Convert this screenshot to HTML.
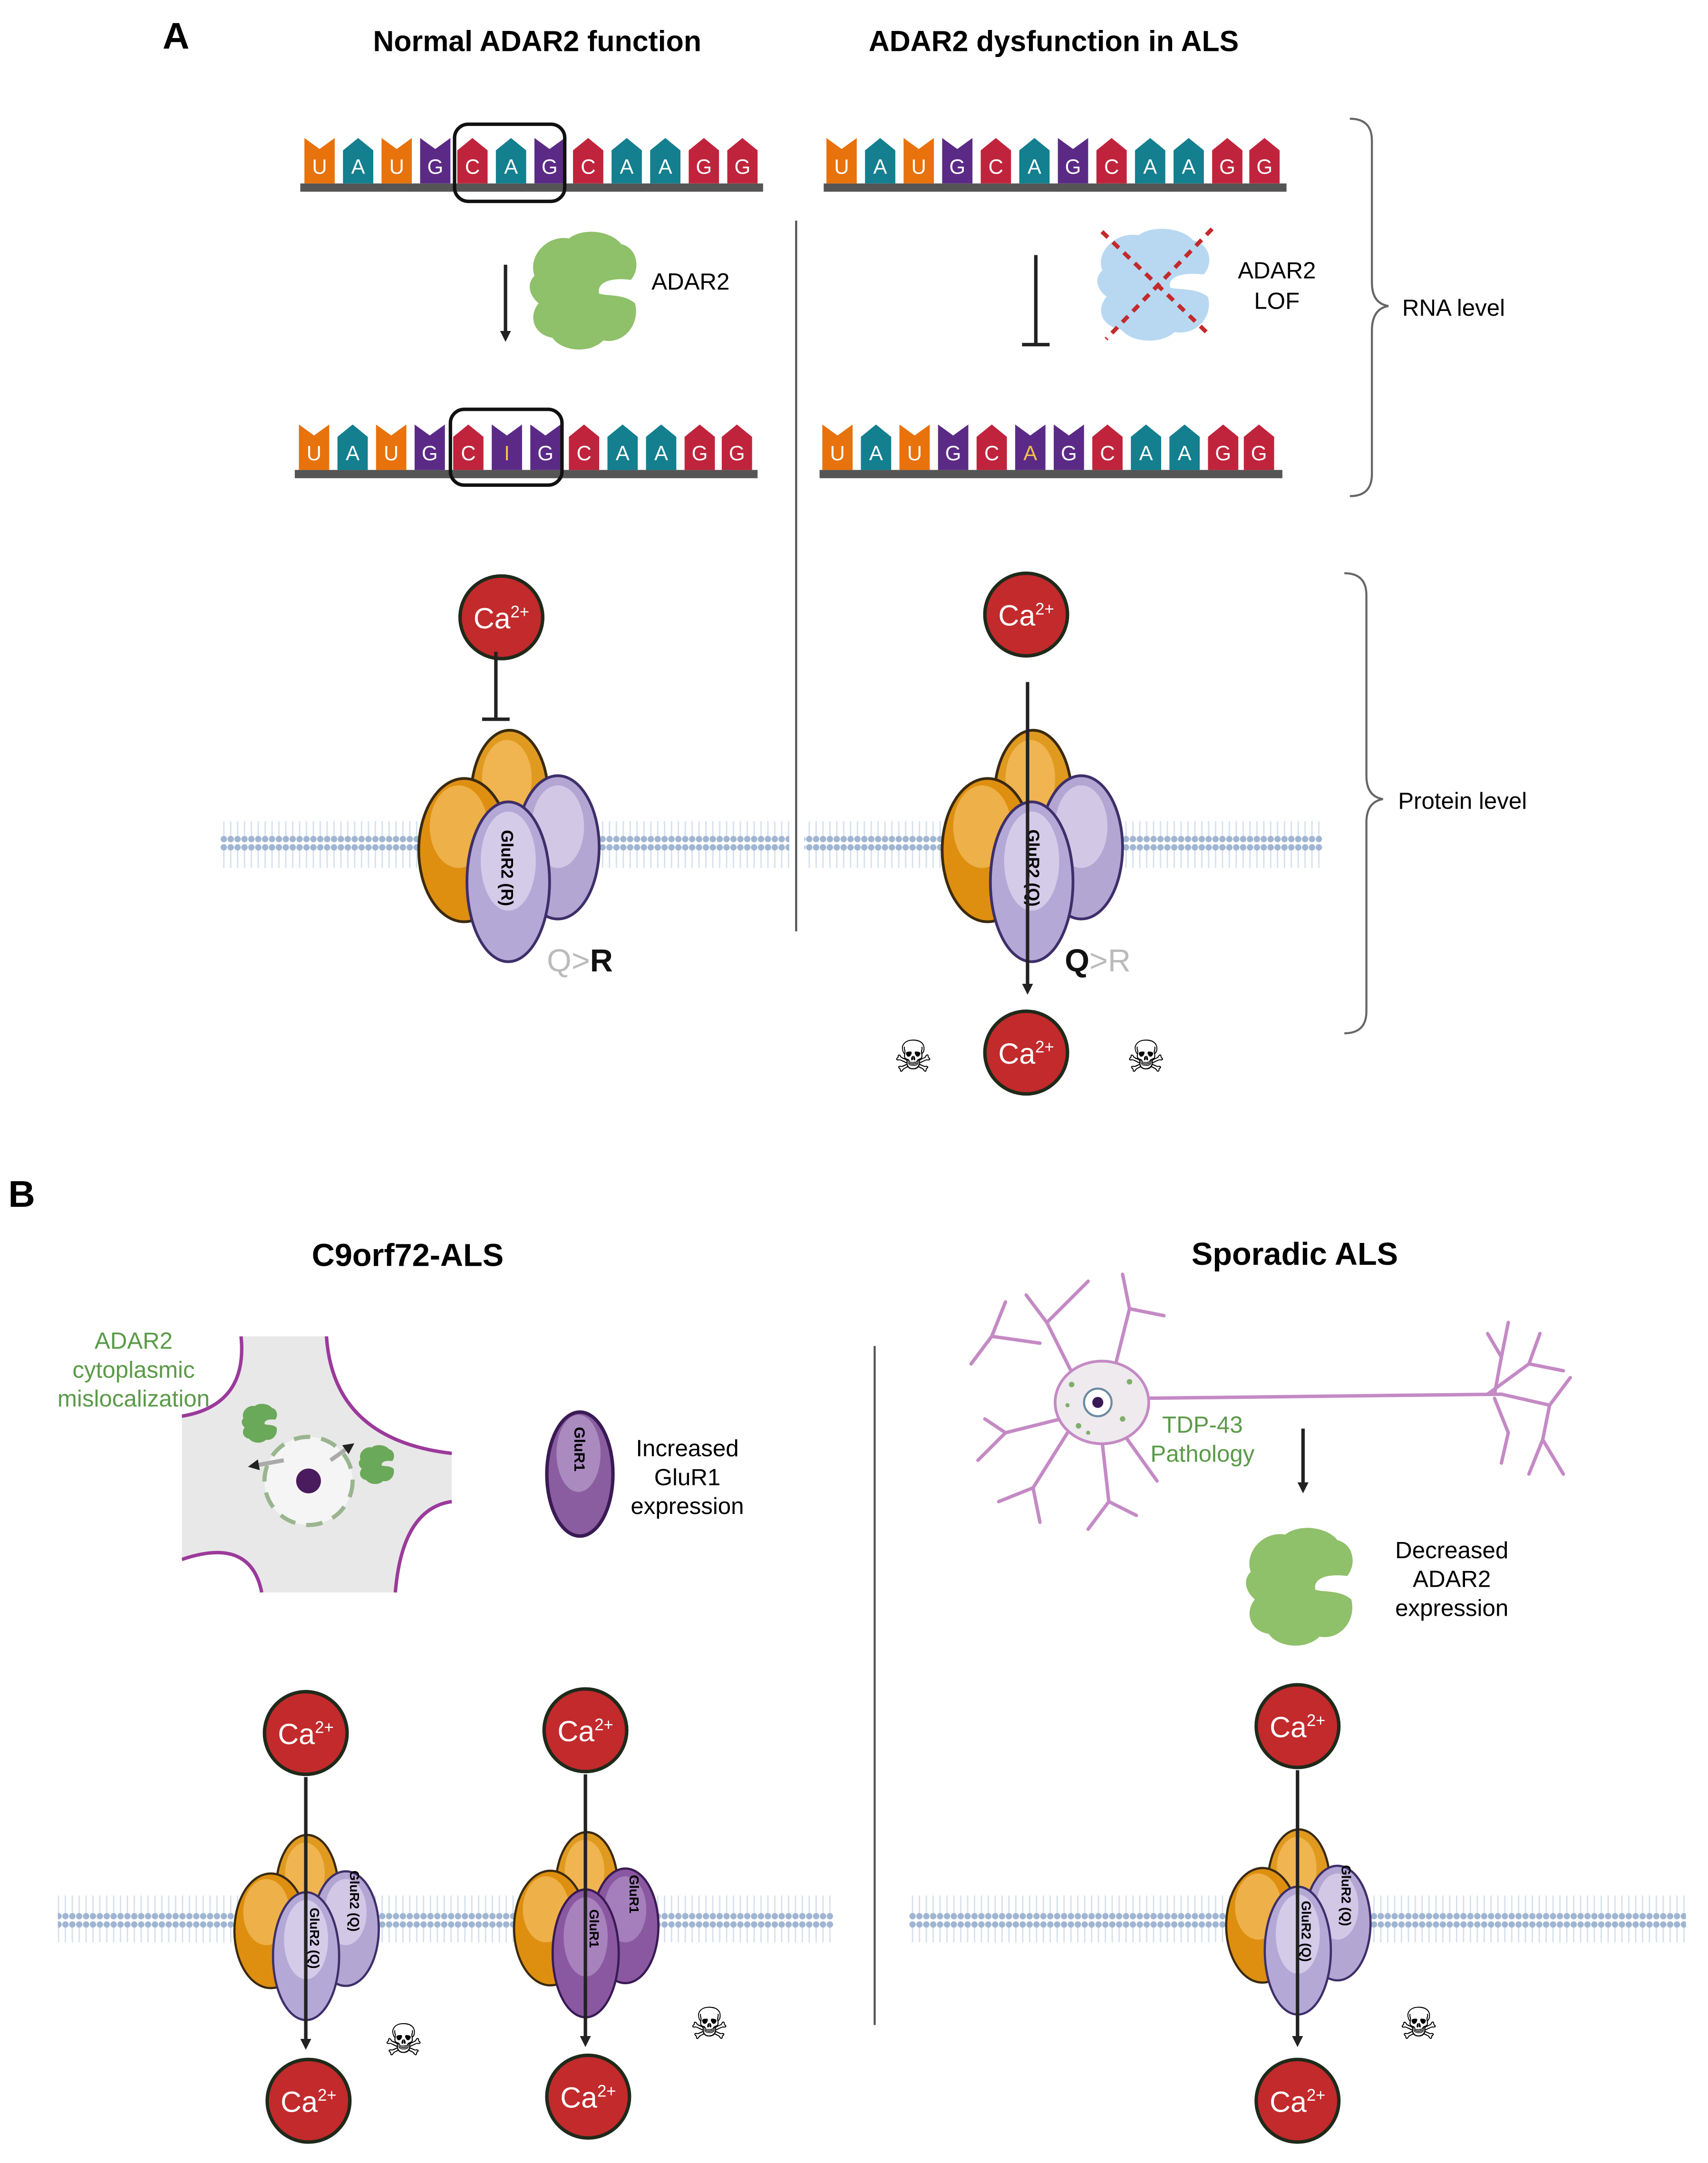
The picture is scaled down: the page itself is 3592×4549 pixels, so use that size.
<!DOCTYPE html>
<html><head><meta charset="utf-8"><style>
html,body{margin:0;padding:0;background:#fff}
svg{display:block}
text{font-family:"Liberation Sans",sans-serif}
</style></head><body>
<svg width="3592" height="4549" viewBox="0 0 1240 1570" xmlns="http://www.w3.org/2000/svg">
<defs>
<pattern id="mem" width="5" height="34" patternUnits="userSpaceOnUse">
<line x1="2.5" y1="4" x2="2.5" y2="30" stroke="#d6e0ee" stroke-width="1"/>
<circle cx="2.5" cy="3" r="2.3" fill="#9fb5d2"/>
<circle cx="2.5" cy="31" r="2.3" fill="#9fb5d2"/>
</pattern>
<path id="pk" d="M0 33V9L11 0 22 9V33Z"/>
<path id="nt" d="M0 33V0L11 8 22 0V33Z"/>
<g id="ca">
<circle r="30" fill="#c22a2c" stroke="#1f2a1a" stroke-width="2.5"/>
</g>
<g id="rec">
<ellipse cx="370" cy="578" rx="28" ry="48" fill="#e09a20" stroke="#3a2a10" stroke-width="2"/>
<ellipse cx="368" cy="565" rx="18" ry="28" fill="#f0b550"/>
<ellipse cx="337" cy="617" rx="33" ry="52" fill="#de8f10" stroke="#3a2a10" stroke-width="2"/>
<ellipse cx="333" cy="600" rx="21" ry="30" fill="#eeb048"/>
<ellipse cx="405" cy="615" rx="30" ry="52" fill="#b3a6d3" stroke="#3e2f6a" stroke-width="2"/>
<ellipse cx="405" cy="600" rx="19" ry="30" fill="#d2c8e6"/>
<ellipse cx="369" cy="640" rx="30" ry="58" fill="#b4a8d6" stroke="#3e2f6a" stroke-width="2"/>
<ellipse cx="369" cy="625" rx="20" ry="36" fill="#d4cbe8"/>
</g>
<g id="recd">
<ellipse cx="370" cy="578" rx="28" ry="48" fill="#e09a20" stroke="#3a2a10" stroke-width="2"/>
<ellipse cx="368" cy="565" rx="18" ry="28" fill="#f0b550"/>
<ellipse cx="337" cy="617" rx="33" ry="52" fill="#de8f10" stroke="#3a2a10" stroke-width="2"/>
<ellipse cx="333" cy="600" rx="21" ry="30" fill="#eeb048"/>
<ellipse cx="405" cy="615" rx="30" ry="52" fill="#8a58a0" stroke="#3a1a55" stroke-width="2"/>
<ellipse cx="405" cy="600" rx="19" ry="30" fill="#a57fbb"/>
<ellipse cx="369" cy="640" rx="30" ry="58" fill="#8a58a0" stroke="#3a1a55" stroke-width="2"/>
<ellipse cx="369" cy="625" rx="20" ry="36" fill="#a882bd"/>
</g>
<g id="blob">
<path d="M5 35 C0 20 15 5 30 8 C40 0 60 2 68 12 C80 15 82 30 75 38 C60 36 50 40 52 48 C58 50 70 48 78 55 C82 70 70 85 55 82 C45 92 25 90 18 80 C5 78 0 65 8 55 C0 48 0 40 5 35Z"/>
</g>
<marker id="ah" markerWidth="8" markerHeight="8" refX="4" refY="4" orient="auto" markerUnits="userSpaceOnUse"><path d="M0 0L8 4L0 8Z" fill="#222"/></marker>
</defs>

<text x="118" y="35" font-size="27" font-weight="bold">A</text>
<text x="390" y="37" font-size="21" font-weight="bold" text-anchor="middle">Normal ADAR2 function</text>
<text x="765" y="37" font-size="21" font-weight="bold" text-anchor="middle">ADAR2 dysfunction in ALS</text>

<g font-size="15" fill="#fff" text-anchor="middle">
<rect x="218" y="133" width="336" height="6" fill="#555"/>
<g transform="translate(221,100)"><use href="#nt" fill="#e8720c"/><text x="11" y="26">U</text></g>
<g transform="translate(249,100)"><use href="#pk" fill="#137f8f"/><text x="11" y="26">A</text></g>
<g transform="translate(277,100)"><use href="#nt" fill="#e8720c"/><text x="11" y="26">U</text></g>
<g transform="translate(305,100)"><use href="#nt" fill="#5b2a86"/><text x="11" y="26">G</text></g>
<g transform="translate(332,100)"><use href="#pk" fill="#c0243c"/><text x="11" y="26">C</text></g>
<g transform="translate(360,100)"><use href="#pk" fill="#137f8f"/><text x="11" y="26">A</text></g>
<g transform="translate(388,100)"><use href="#nt" fill="#5b2a86"/><text x="11" y="26">G</text></g>
<g transform="translate(416,100)"><use href="#pk" fill="#c0243c"/><text x="11" y="26">C</text></g>
<g transform="translate(444,100)"><use href="#pk" fill="#137f8f"/><text x="11" y="26">A</text></g>
<g transform="translate(472,100)"><use href="#pk" fill="#137f8f"/><text x="11" y="26">A</text></g>
<g transform="translate(500,100)"><use href="#pk" fill="#c0243c"/><text x="11" y="26">G</text></g>
<g transform="translate(528,100)"><use href="#pk" fill="#c0243c"/><text x="11" y="26">G</text></g>
<rect x="214" y="341" width="336" height="6" fill="#555"/>
<g transform="translate(217,308)"><use href="#nt" fill="#e8720c"/><text x="11" y="26">U</text></g>
<g transform="translate(245,308)"><use href="#pk" fill="#137f8f"/><text x="11" y="26">A</text></g>
<g transform="translate(273,308)"><use href="#nt" fill="#e8720c"/><text x="11" y="26">U</text></g>
<g transform="translate(301,308)"><use href="#nt" fill="#5b2a86"/><text x="11" y="26">G</text></g>
<g transform="translate(329,308)"><use href="#pk" fill="#c0243c"/><text x="11" y="26">C</text></g>
<g transform="translate(357,308)"><use href="#nt" fill="#5b2a86"/><text x="11" y="26" fill="#f2c04a">I</text></g>
<g transform="translate(385,308)"><use href="#nt" fill="#5b2a86"/><text x="11" y="26">G</text></g>
<g transform="translate(413,308)"><use href="#pk" fill="#c0243c"/><text x="11" y="26">C</text></g>
<g transform="translate(441,308)"><use href="#pk" fill="#137f8f"/><text x="11" y="26">A</text></g>
<g transform="translate(469,308)"><use href="#pk" fill="#137f8f"/><text x="11" y="26">A</text></g>
<g transform="translate(497,308)"><use href="#pk" fill="#c0243c"/><text x="11" y="26">G</text></g>
<g transform="translate(524,308)"><use href="#pk" fill="#c0243c"/><text x="11" y="26">G</text></g>
<rect x="598" y="133" width="336" height="6" fill="#555"/>
<g transform="translate(600,100)"><use href="#nt" fill="#e8720c"/><text x="11" y="26">U</text></g>
<g transform="translate(628,100)"><use href="#pk" fill="#137f8f"/><text x="11" y="26">A</text></g>
<g transform="translate(656,100)"><use href="#nt" fill="#e8720c"/><text x="11" y="26">U</text></g>
<g transform="translate(684,100)"><use href="#nt" fill="#5b2a86"/><text x="11" y="26">G</text></g>
<g transform="translate(712,100)"><use href="#pk" fill="#c0243c"/><text x="11" y="26">C</text></g>
<g transform="translate(740,100)"><use href="#pk" fill="#137f8f"/><text x="11" y="26">A</text></g>
<g transform="translate(768,100)"><use href="#nt" fill="#5b2a86"/><text x="11" y="26">G</text></g>
<g transform="translate(796,100)"><use href="#pk" fill="#c0243c"/><text x="11" y="26">C</text></g>
<g transform="translate(824,100)"><use href="#pk" fill="#137f8f"/><text x="11" y="26">A</text></g>
<g transform="translate(852,100)"><use href="#pk" fill="#137f8f"/><text x="11" y="26">A</text></g>
<g transform="translate(880,100)"><use href="#pk" fill="#c0243c"/><text x="11" y="26">G</text></g>
<g transform="translate(907,100)"><use href="#pk" fill="#c0243c"/><text x="11" y="26">G</text></g>
<rect x="595" y="341" width="336" height="6" fill="#555"/>
<g transform="translate(597,308)"><use href="#nt" fill="#e8720c"/><text x="11" y="26">U</text></g>
<g transform="translate(625,308)"><use href="#pk" fill="#137f8f"/><text x="11" y="26">A</text></g>
<g transform="translate(653,308)"><use href="#nt" fill="#e8720c"/><text x="11" y="26">U</text></g>
<g transform="translate(681,308)"><use href="#nt" fill="#5b2a86"/><text x="11" y="26">G</text></g>
<g transform="translate(709,308)"><use href="#pk" fill="#c0243c"/><text x="11" y="26">C</text></g>
<g transform="translate(737,308)"><use href="#nt" fill="#5b2a86"/><text x="11" y="26" fill="#f2c04a">A</text></g>
<g transform="translate(765,308)"><use href="#nt" fill="#5b2a86"/><text x="11" y="26">G</text></g>
<g transform="translate(793,308)"><use href="#pk" fill="#c0243c"/><text x="11" y="26">C</text></g>
<g transform="translate(821,308)"><use href="#pk" fill="#137f8f"/><text x="11" y="26">A</text></g>
<g transform="translate(849,308)"><use href="#pk" fill="#137f8f"/><text x="11" y="26">A</text></g>
<g transform="translate(877,308)"><use href="#pk" fill="#c0243c"/><text x="11" y="26">G</text></g>
<g transform="translate(903,308)"><use href="#pk" fill="#c0243c"/><text x="11" y="26">G</text></g>
</g>
<rect x="330" y="90" width="80" height="56" rx="10" fill="none" stroke="#111" stroke-width="2.5"/>
<rect x="327" y="297" width="81" height="55" rx="10" fill="none" stroke="#111" stroke-width="2.5"/>

<line x1="367" y1="192" x2="367" y2="244" stroke="#222" stroke-width="2.5" marker-end="url(#ah)"/>
<use href="#blob" transform="translate(383,165)" fill="#8fc06a"/>
<text x="473" y="210" font-size="17">ADAR2</text>

<line x1="578" y1="160" x2="578" y2="676" stroke="#555" stroke-width="1.5"/>

<line x1="752" y1="185" x2="752" y2="250" stroke="#222" stroke-width="2.5"/>
<line x1="742" y1="250" x2="762" y2="250" stroke="#222" stroke-width="2.5"/>
<use href="#blob" transform="translate(795,163) scale(1.05,0.95)" fill="#b8d8f2"/>
<line x1="800" y1="168" x2="878" y2="243" stroke="#c22a2c" stroke-width="3" stroke-dasharray="6 5"/>
<line x1="880" y1="166" x2="803" y2="246" stroke="#c22a2c" stroke-width="3" stroke-dasharray="6 5"/>
<text x="927" y="202" font-size="17" text-anchor="middle">ADAR2</text>
<text x="927" y="224" font-size="17" text-anchor="middle">LOF</text>

<path d="M980 86 Q996 86 996 102 L996 205 Q996 220 1008 222 Q996 224 996 240 L996 344 Q996 360 980 360" fill="none" stroke="#666" stroke-width="1.5"/>
<text x="1018" y="229" font-size="17">RNA level</text>
<path d="M976 416 Q992 416 992 432 L992 563 Q992 578 1004 580 Q992 582 992 597 L992 734 Q992 750 976 750" fill="none" stroke="#666" stroke-width="1.5"/>
<text x="1015" y="587" font-size="17">Protein level</text>

<rect x="160" y="596" width="413" height="34" fill="url(#mem)"/>
<rect x="584" y="596" width="376" height="34" fill="url(#mem)"/>

<use href="#ca" x="364" y="448"/>
<text x="364" y="456" font-size="21" fill="#fff" text-anchor="middle">Ca<tspan font-size="12" dy="-8">2+</tspan></text>
<line x1="360" y1="473" x2="360" y2="522" stroke="#222" stroke-width="2.5"/>
<line x1="350" y1="522" x2="370" y2="522" stroke="#222" stroke-width="2.5"/>
<use href="#rec"/>
<text transform="translate(364,630) rotate(90)" font-size="12" font-weight="bold" text-anchor="middle">GluR2 (R)</text>
<text x="397" y="705" font-size="23" fill="#bbb">Q&gt;<tspan fill="#111" font-weight="bold">R</tspan></text>

<use href="#rec" transform="translate(380,0)"/>
<text transform="translate(746,630) rotate(90)" font-size="12" font-weight="bold" text-anchor="middle">GluR2 (Q)</text>
<line x1="746" y1="495" x2="746" y2="718" stroke="#222" stroke-width="2.5" marker-end="url(#ah)"/>
<use href="#ca" x="745" y="446"/>
<text x="745" y="454" font-size="21" fill="#fff" text-anchor="middle">Ca<tspan font-size="12" dy="-8">2+</tspan></text>
<use href="#ca" x="745" y="764"/>
<text x="745" y="772" font-size="21" fill="#fff" text-anchor="middle">Ca<tspan font-size="12" dy="-8">2+</tspan></text>
<text x="773" y="705" font-size="23" fill="#bbb"><tspan fill="#111" font-weight="bold">Q</tspan>&gt;R</text>
<text x="663" y="778" font-size="32" text-anchor="middle" font-family="DejaVu Sans">☠</text>
<text x="832" y="778" font-size="32" text-anchor="middle" font-family="DejaVu Sans">☠</text>

<text x="6" y="876" font-size="27" font-weight="bold">B</text>
<text x="296" y="919" font-size="23" font-weight="bold" text-anchor="middle">C9orf72-ALS</text>
<text x="940" y="918" font-size="23" font-weight="bold" text-anchor="middle">Sporadic ALS</text>

<svg x="132" y="970" width="196" height="186" viewBox="0 0 196 186" overflow="hidden">
<rect width="196" height="186" fill="#e8e8e8"/>
<path d="M-5 -5 L43 -5 Q48 50 0 58 L-5 58Z M105 -5 L200 -5 L200 85 Q110 75 105 0Z M200 120 Q160 125 155 190 L200 190Z M-5 162 Q50 145 58 190 L-5 190Z" fill="#fff"/>
<path d="M43 0 Q48 50 0 58 M105 0 Q110 75 196 85 M196 120 Q160 125 155 186 M0 162 Q50 145 58 186" fill="none" stroke="#9b3a9b" stroke-width="2.5"/>
</svg>
<circle cx="224" cy="1075" r="32" fill="#f5f5f5" stroke="#9ab58f" stroke-width="3" stroke-dasharray="12 8"/>
<circle cx="224" cy="1075" r="9" fill="#4a1b5e"/>
<line x1="206" y1="1060" x2="184" y2="1064" stroke="#aaa" stroke-width="3" marker-end="url(#ah)"/>
<line x1="240" y1="1060" x2="254" y2="1050" stroke="#aaa" stroke-width="3" marker-end="url(#ah)"/>
<use href="#blob" transform="translate(175,1018) scale(0.33)" fill="#6aa85a"/>
<use href="#blob" transform="translate(260,1048) scale(0.33)" fill="#6aa85a"/>
<g font-size="17" fill="#5a9a48" text-anchor="middle">
<text x="97" y="979">ADAR2</text><text x="97" y="1000">cytoplasmic</text><text x="97" y="1021">mislocalization</text></g>

<ellipse cx="421" cy="1070" rx="24" ry="45" fill="#8a5da0" stroke="#3a1a55" stroke-width="2.5"/>
<ellipse cx="420" cy="1055" rx="16" ry="28" fill="#aa8abf"/>
<text transform="translate(417,1052) rotate(90)" font-size="11" font-weight="bold" text-anchor="middle">GluR1</text>
<g font-size="17" text-anchor="middle"><text x="499" y="1057">Increased</text><text x="499" y="1078">GluR1</text><text x="499" y="1099">expression</text></g>

<line x1="635" y1="977" x2="635" y2="1470" stroke="#555" stroke-width="1.5"/>

<g fill="none" stroke="#c48ac4" stroke-width="2.5" stroke-linecap="round">
<path d="M830 1015 L1090 1012 M1080 1012 L1110 990 L1135 995 M1110 990 L1118 968 M1090 1012 L1125 1020 L1140 1000 M1125 1020 L1120 1045 L1110 1070 M1120 1045 L1135 1070 M1085 1012 L1090 985 L1095 960 M1090 985 L1080 968 M1085 1015 L1095 1040 L1090 1062"/>
<path d="M780 1000 L760 960 L745 940 M760 960 L790 930 M755 975 L720 970 L705 990 M720 970 L730 945 M770 1030 L730 1040 L710 1060 M730 1040 L715 1030 M775 1040 L750 1080 L725 1090 M750 1080 L755 1105 M800 1045 L805 1090 L790 1110 M805 1090 L825 1100 M815 1040 L840 1075 M810 990 L820 950 L815 925 M820 950 L845 955"/>
</g>
<ellipse cx="800" cy="1018" rx="34" ry="30" fill="#eeeaee" stroke="#c48ac4" stroke-width="2"/>
<circle cx="797" cy="1018" r="10" fill="#fff" stroke="#6a8aa0" stroke-width="1.5"/>
<circle cx="797" cy="1018" r="4" fill="#3a1a55"/>
<g fill="#7fae6a"><circle cx="778" cy="1005" r="2"/><circle cx="815" cy="1030" r="2"/><circle cx="783" cy="1035" r="2"/><circle cx="820" cy="1003" r="2"/><circle cx="790" cy="1040" r="1.5"/><circle cx="775" cy="1020" r="1.5"/></g>
<g font-size="17" fill="#5a9a48" text-anchor="middle"><text x="873" y="1040">TDP-43</text><text x="873" y="1061">Pathology</text></g>
<line x1="946" y1="1037" x2="946" y2="1080" stroke="#222" stroke-width="2.5" marker-end="url(#ah)"/>
<use href="#blob" transform="translate(903,1106)" fill="#8fc06a"/>
<g font-size="17" text-anchor="middle"><text x="1054" y="1131">Decreased</text><text x="1054" y="1152">ADAR2</text><text x="1054" y="1173">expression</text></g>

<rect x="42" y="1376" width="563" height="34" fill="url(#mem)"/>
<rect x="660" y="1376" width="564" height="34" fill="url(#mem)"/>

<use href="#rec" transform="translate(-73,908) scale(0.8)"/>
<text transform="translate(225,1407) rotate(90)" font-size="9.5" font-weight="bold" text-anchor="middle">GluR2 (Q)</text>
<text transform="translate(254,1380) rotate(90)" font-size="9.5" font-weight="bold" text-anchor="middle">GluR2 (Q)</text>
<line x1="222" y1="1290" x2="222" y2="1484" stroke="#222" stroke-width="2.5" marker-end="url(#ah)"/>
<use href="#ca" x="222" y="1258"/><text x="222" y="1266" font-size="21" fill="#fff" text-anchor="middle">Ca<tspan font-size="12" dy="-8">2+</tspan></text>
<use href="#ca" x="224" y="1525"/><text x="224" y="1533" font-size="21" fill="#fff" text-anchor="middle">Ca<tspan font-size="12" dy="-8">2+</tspan></text>
<text x="293" y="1492" font-size="32" text-anchor="middle" font-family="DejaVu Sans">☠</text>

<use href="#recd" transform="translate(130,906) scale(0.8)"/>
<text transform="translate(428,1400) rotate(90)" font-size="9.5" font-weight="bold" text-anchor="middle">GluR1</text>
<text transform="translate(457,1375) rotate(90)" font-size="9.5" font-weight="bold" text-anchor="middle">GluR1</text>
<line x1="425" y1="1288" x2="425" y2="1482" stroke="#222" stroke-width="2.5" marker-end="url(#ah)"/>
<use href="#ca" x="425" y="1256"/><text x="425" y="1264" font-size="21" fill="#fff" text-anchor="middle">Ca<tspan font-size="12" dy="-8">2+</tspan></text>
<use href="#ca" x="427" y="1522"/><text x="427" y="1530" font-size="21" fill="#fff" text-anchor="middle">Ca<tspan font-size="12" dy="-8">2+</tspan></text>
<text x="515" y="1480" font-size="32" text-anchor="middle" font-family="DejaVu Sans">☠</text>

<use href="#rec" transform="translate(647,904) scale(0.8)"/>
<text transform="translate(945,1402) rotate(90)" font-size="9.5" font-weight="bold" text-anchor="middle">GluR2 (Q)</text>
<text transform="translate(974,1376) rotate(90)" font-size="9.5" font-weight="bold" text-anchor="middle">GluR2 (Q)</text>
<line x1="942" y1="1285" x2="942" y2="1482" stroke="#222" stroke-width="2.5" marker-end="url(#ah)"/>
<use href="#ca" x="942" y="1253"/><text x="942" y="1261" font-size="21" fill="#fff" text-anchor="middle">Ca<tspan font-size="12" dy="-8">2+</tspan></text>
<use href="#ca" x="942" y="1525"/><text x="942" y="1533" font-size="21" fill="#fff" text-anchor="middle">Ca<tspan font-size="12" dy="-8">2+</tspan></text>
<text x="1030" y="1480" font-size="32" text-anchor="middle" font-family="DejaVu Sans">☠</text>
</svg>
</body></html>
